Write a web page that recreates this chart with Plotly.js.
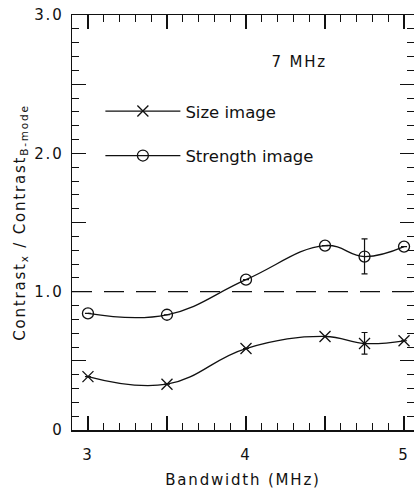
<!DOCTYPE html>
<html>
<head>
<meta charset="utf-8">
<script src="https://cdn.plot.ly/plotly-3.0.1.min.js"></script>
<style>
html,body{margin:0;padding:0;background:#fff;}
#chart{width:414px;height:491px;}
#chart svg text:not(.legendtext){letter-spacing:1.8px;}
</style>
</head>
<body>
<div id="chart"></div>
<script>
const bandwidth = [3, 3.5, 4, 4.5, 4.75, 5];
const sizeImage = [0.386, 0.331, 0.589, 0.676, 0.625, 0.645];
const sizeErrPlus = [0, 0, 0, 0, 0.08, 0];
const sizeErrMinus = [0, 0, 0, 0, 0.077, 0];
const strengthImage = [0.843, 0.833, 1.087, 1.333, 1.254, 1.326];
const strengthErrPlus = [0, 0, 0, 0, 0.128, 0];
const strengthErrMinus = [0, 0, 0, 0, 0.126, 0];
const xTickVals = [3, 3.5, 4, 4.5, 5];
const xTickText = ["3", "", "4", "", "5"];
const yTickVals = [0, 0.5, 1, 1.5, 2, 2.5, 3];
const yTickText = ["0", "", "1.0", "", "2.0", "", "3.0"];
const referenceLevel = 1.0;

const font = {family: "DejaVu Sans, sans-serif", size: 15, color: "#111"};
const legendFont = {family: "DejaVu Sans, sans-serif", size: 16.5, color: "#111"};

const traces = [
  {
    x: bandwidth, y: sizeImage, name: "Size image", legendgroup: "a",
    mode: "lines+markers", type: "scatter",
    line: {color: "#111", width: 1.3, shape: "spline", smoothing: 1.2},
    marker: {symbol: "x-thin-open", size: 11, color: "#111", line: {color: "#111", width: 1.3}},
    error_y: {type: "data", array: sizeErrPlus, arrayminus: sizeErrMinus, visible: true, color: "#111", thickness: 1.2, width: 3}
  },
  {
    x: bandwidth, y: strengthImage, name: "Strength image", legendgroup: "b",
    mode: "lines+markers", type: "scatter",
    line: {color: "#111", width: 1.3, shape: "spline", smoothing: 1.2},
    marker: {symbol: "circle-open", size: 11, color: "#111", line: {color: "#111", width: 1.3}},
    error_y: {type: "data", array: strengthErrPlus, arrayminus: strengthErrMinus, visible: true, color: "#111", thickness: 1.2, width: 3}
  }
];

const layout = {
  width: 414, height: 491,
  margin: {l: 72, r: 0, t: 15, b: 61},
  paper_bgcolor: "#fff", plot_bgcolor: "#fff",
  font: font,
  showlegend: true,
  legend: {
    x: 0.083, y: 0.81, xanchor: "left", yanchor: "top",
    bgcolor: "rgba(0,0,0,0)", borderwidth: 0,
    traceorder: "grouped", tracegroupgap: 20,
    itemwidth: 75, font: legendFont
  },
  xaxis: {
    range: [2.899, 5.063],
    tickvals: xTickVals, ticktext: xTickText,
    ticks: "inside", ticklen: 14, tickwidth: 1.2, tickcolor: "#111",
    minor: {dtick: 0.1, ticks: "inside", ticklen: 7, tickwidth: 1, tickcolor: "#111"},
    showline: true, linecolor: "#111", linewidth: 1.5, mirror: "ticks",
    showgrid: false, zeroline: false,
    tickfont: font, ticklabelstandoff: 10,
    title: {text: "Bandwidth (MHz)", font: font, standoff: 12}
  },
  yaxis: {
    range: [0, 3.0],
    tickvals: yTickVals, ticktext: yTickText,
    ticks: "inside", ticklen: 14, tickwidth: 1.2, tickcolor: "#111",
    minor: {dtick: 0.1, ticks: "inside", ticklen: 7, tickwidth: 1, tickcolor: "#111"},
    showline: true, linecolor: "#111", linewidth: 1.5, mirror: "ticks",
    showgrid: false, zeroline: false,
    tickfont: font, ticklabelstandoff: 4,
    title: {text: "Contrast<sub>x</sub> / Contrast<sub>B-mode</sub>", font: font, standoff: 10}
  },
  shapes: [
    {type: "line", xref: "paper", x0: 0, x1: 1, yref: "y", y0: referenceLevel, y1: referenceLevel,
     line: {color: "#111", width: 1.3, dash: "20px,12px"}}
  ],
  annotations: [
    {text: "7 MHz", x: 4.34, y: 2.66, xref: "x", yref: "y", showarrow: false, font: font}
  ]
};

Plotly.newPlot("chart", traces, layout, {displayModeBar: false, staticPlot: true});
</script>
</body>
</html>
